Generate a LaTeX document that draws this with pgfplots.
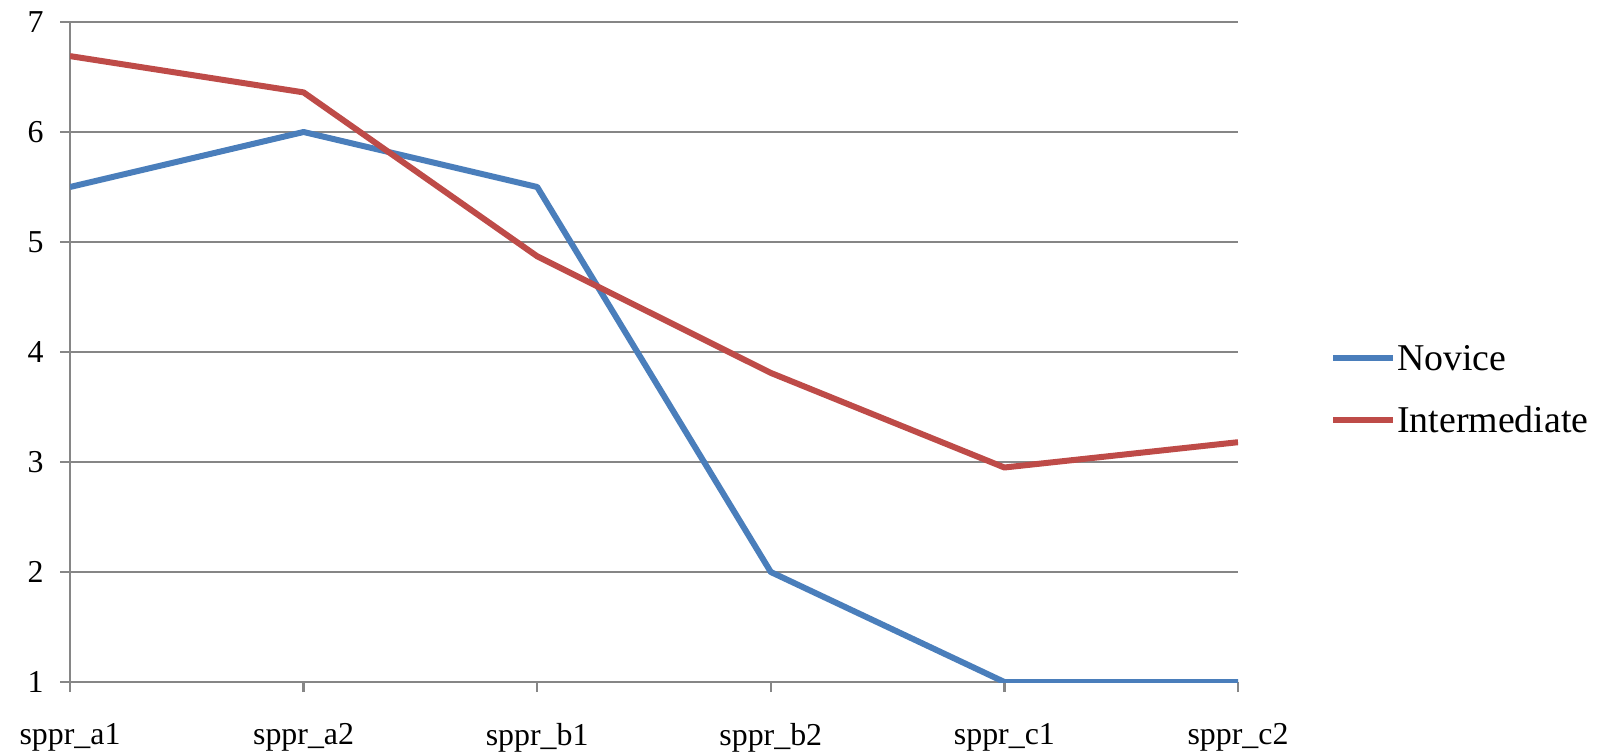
\documentclass[border=0pt]{standalone}
\usepackage{fontspec}
\setmainfont{Liberation Serif}
\usepackage{pgfplots}
\pgfplotsset{compat=1.18}
\definecolor{novice}{RGB}{74,126,187}
\definecolor{inter}{RGB}{190,75,72}
\definecolor{gridgray}{RGB}{134,134,134}
\begin{document}
\begin{tikzpicture}
\begin{axis}[
  scale only axis, width=1168bp, height=660bp,
  xmin=0, xmax=5, ymin=1, ymax=7,
  xtick={0,1,2,3,4,5},
  xticklabels={sppr\_a1,sppr\_a2,sppr\_b1,sppr\_b2,sppr\_c1,sppr\_c2},
  ytick={1,2,3,4,5,6,7},
  axis x line*=bottom, axis y line*=left,
  axis line style={gridgray, line width=2.5bp, -},
  ymajorgrids, grid style={gridgray, line width=2.5bp},
  tick align=outside, major tick length=10bp,
  tick style={gridgray, line width=2.5bp},
  ticklabel style={font=\fontsize{32}{36}\selectfont, text=black},
  yticklabel style={xshift=-13bp},
  xticklabel style={yshift=-28bp},
  /pgf/number format/assume math mode=true,
  legend style={at={(rel axis cs:1.0788,0.443)}, anchor=west, draw=none, fill=none,
    font=\fontsize{38}{44}\selectfont, row sep=33bp, inner sep=0pt,
    nodes={inner sep=1bp}},
  legend cell align=left,
  legend image code/.code={\draw[#1, line width=6bp] (0bp,0bp) -- (60bp,0bp);},
]
\addplot[novice, line width=6bp, line join=round] coordinates {
  (0,5.5) (1,6.0) (2,5.5) (3,2.0) (4,1.0) (5,1.0)};
\addlegendentry{Novice}
\addplot[inter, line width=6bp, line join=round] coordinates {
  (0,6.69) (1,6.36) (2,4.87) (3,3.81) (4,2.95) (5,3.18)};
\addlegendentry{Intermediate}
\end{axis}
\pgfresetboundingbox
\path[use as bounding box] ([xshift=-70bp,yshift=-73bp]current axis.south west) rectangle ([xshift=366bp,yshift=22bp]current axis.north east);
\end{tikzpicture}
\end{document}
